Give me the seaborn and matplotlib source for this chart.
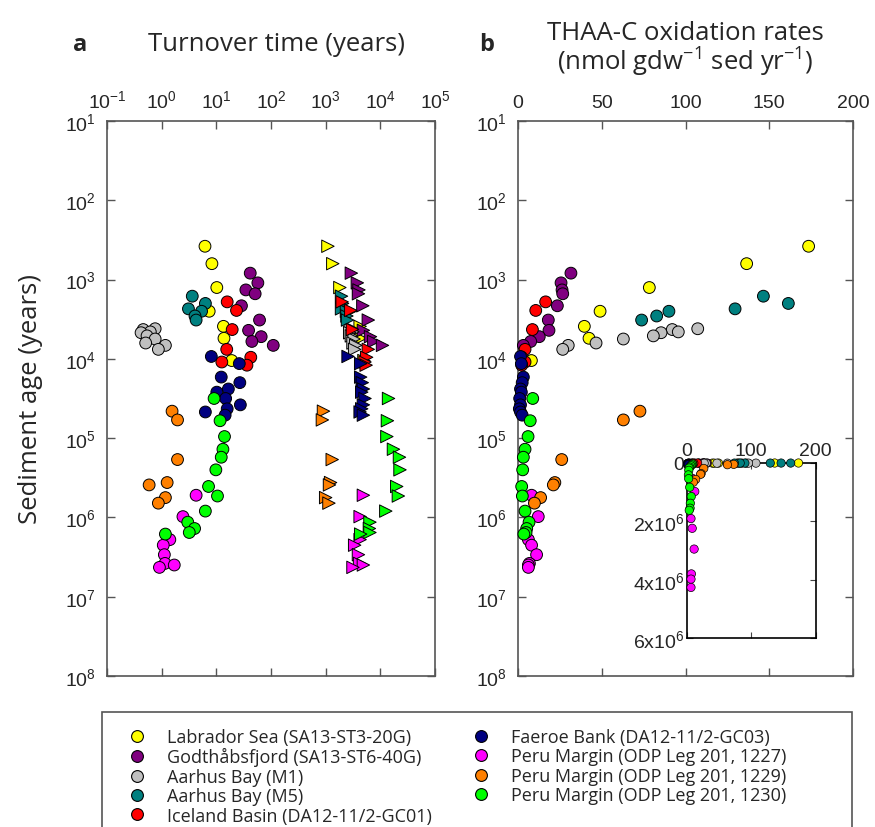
import numpy as np
import pandas as pd
import matplotlib
matplotlib.use("Agg")
import matplotlib.pyplot as plt
import seaborn as sns
from matplotlib.lines import Line2D
from matplotlib.patches import Rectangle
from matplotlib.ticker import FixedLocator, FixedFormatter, NullLocator, LogFormatterSciNotation

# ---------------- data ----------------
site_names = [
    "Labrador Sea (SA13-ST3-20G)",
    "Godthåbsfjord (SA13-ST6-40G)",
    "Aarhus Bay (M1)",
    "Aarhus Bay (M5)",
    "Iceland Basin (DA12-11/2-GC01)",
    "Faeroe Bank (DA12-11/2-GC03)",
    "Peru Margin (ODP Leg 201, 1227)",
    "Peru Margin (ODP Leg 201, 1229)",
    "Peru Margin (ODP Leg 201, 1230)",
]
site_colors = ["#FFFF00", "#800080", "#C0C0C0", "#008080", "#FF0000",
               "#000080", "#FF00FF", "#FF8000", "#00FF00"]

# sediment age (years)
labrador_age = [380, 630, 1260, 2510, 3890, 5500, 10500]
godthab_age = [830, 1100, 1350, 1510, 2140, 3240, 4370, 5250, 6030, 6760]
aarhus_m1_age = [4170, 4270, 4570, 4680, 5130, 5620, 6310, 6760, 7590]
aarhus_m5_age = [1620, 2000, 2340, 2510, 2880, 3240]
iceland_age = [1910, 2450, 4270, 7590, 9550, 10960, 12020]
faeroe_age = [9330, 11480, 16980, 19950, 23990, 26300, 31620, 38020, 42660, 46770, 51290]
peru1227_age = [525000, 977000, 1905000, 2239000, 2951000, 3802000, 3981000, 4266000]
peru1229_age = [45700, 58900, 186200, 363100, 389000, 562300, 660700]
peru1230_age = [31600, 60300, 95500, 138000, 174000, 251000, 407000, 537000,
                832000, 1148000, 1380000, 1549000, 1622000]

# turnover time (years), circles
labrador_turn_c = [6.2, 8.3, 10.2, 7.4, 13.5, 13.8, 19.1]
godthab_turn_c = [41.7, 57.5, 34.7, 51.3, 28.8, 61.7, 38.9, 66.1, 44.7, 110]
aarhus_m1_turn_c = [0.76, 0.46, 0.62, 0.42, 0.54, 0.76, 0.51, 1.17, 0.87]
aarhus_m5_turn_c = [3.63, 6.31, 3.09, 5.37, 4.07, 4.27]
iceland_turn_c = [15.8, 23.4, 19.5, 15.5, 42.7, 12.6, 36.3]
faeroe_turn_c = [8.1, 26.3, 12.3, 26.9, 16.6, 10.2, 14.8, 27.5, 15.8, 6.3, 14.5]
peru1227_turn_c = [4.27, 2.45, 1.41, 1.07, 1.12, 1.15, 1.70, 0.91]
peru1229_turn_c = [1.55, 1.95, 1.95, 1.26, 0.59, 1.17, 0.87]
peru1230_turn_c = [9.1, 11.7, 14.1, 13.2, 12.3, 9.8, 7.2, 10.5, 6.3, 3.0, 4.0, 3.2, 1.17]

# turnover time (years), triangles
labrador_turn_t = [1100, 1350, 1820, 2820, 4270, 4370, 5010]
godthab_turn_t = [2950, 3800, 4070, 3980, 4790, 6030, 4900, 6610, 7590, 10960]
aarhus_m1_turn_t = [3020, 2820, 3160, 2750, 2950, 3310, 3160, 3550, 3390]
aarhus_m5_turn_t = [1950, 2040, 1950, 2400, 2450, 2510]
iceland_turn_t = [2000, 2880, 3090, 6030, 5620, 5250, 5500]
faeroe_turn_t = [2570, 4370, 4370, 4680, 4900, 4570, 5250, 4900, 4570, 4270, 4900]
peru1227_turn_t = [4900, 4270, 4270, 3390, 3980, 4170, 4900, 3160]
peru1229_turn_t = [912, 871, 1318, 1230, 1175, 1000, 1148]
peru1230_turn_t = [14130, 13490, 13180, 17380, 22390, 22910, 19950, 21380,
                   12590, 6460, 6310, 6460, 4370]

# THAA-C oxidation rates (nmol gdw-1 sed yr-1)
labrador_rate = [173.5, 136.5, 78.4, 49.0, 39.6, 42.4, 8.0]
godthab_rate = [31.6, 25.7, 26.3, 26.7, 23.5, 18.1, 18.5, 12.7, 7.6, 3.2]
aarhus_m1_rate = [107.3, 92.1, 95.7, 85.4, 80.8, 62.9, 46.6, 30.0, 26.7]
aarhus_m5_rate = [146.5, 161.4, 129.6, 90.1, 82.8, 73.8]
iceland_rate = [16.5, 10.6, 8.6, 4.2, 2.2, 4.2, 2.2]
faeroe_rate = [1.5, 2.0, 3.2, 2.5, 1.5, 2.0, 1.0, 1.5, 0.8, 1.5, 2.5]
peru1227_rate = [8.1, 12.1, 6.2, 8.1, 11.1, 6.8, 6.2, 6.2]
peru1229_rate = [72.8, 62.9, 26.1, 22.0, 21.1, 13.5, 9.8]
peru1230_rate = [8.8, 7.3, 6.0, 4.2, 3.2, 2.8, 2.2, 2.6, 4.2, 6.6, 5.2, 4.8, 3.5]

ages = [labrador_age, godthab_age, aarhus_m1_age, aarhus_m5_age, iceland_age,
        faeroe_age, peru1227_age, peru1229_age, peru1230_age]
turn_c = [labrador_turn_c, godthab_turn_c, aarhus_m1_turn_c, aarhus_m5_turn_c,
          iceland_turn_c, faeroe_turn_c, peru1227_turn_c, peru1229_turn_c, peru1230_turn_c]
turn_t = [labrador_turn_t, godthab_turn_t, aarhus_m1_turn_t, aarhus_m5_turn_t,
          iceland_turn_t, faeroe_turn_t, peru1227_turn_t, peru1229_turn_t, peru1230_turn_t]
rates = [labrador_rate, godthab_rate, aarhus_m1_rate, aarhus_m5_rate, iceland_rate,
         faeroe_rate, peru1227_rate, peru1229_rate, peru1230_rate]

rows = []
for name, a, tc, tt, r in zip(site_names, ages, turn_c, turn_t, rates):
    for i in range(len(a)):
        rows.append(dict(site=name, age=a[i], turn_c=tc[i], turn_t=tt[i], rate=r[i]))
df = pd.DataFrame(rows)
palette = dict(zip(site_names, site_colors))

# ---------------- style ----------------
sns.set_style("white")
plt.rcParams["font.family"] = ["Open Sans", "DejaVu Sans"]
plt.rcParams["mathtext.fontset"] = "custom"
plt.rcParams["mathtext.rm"] = "Liberation Sans"
plt.rcParams["mathtext.default"] = "regular"

SPINE = "#555555"
TICKFONT = "Liberation Sans"

fig = plt.figure(figsize=(8.75, 8.28), dpi=100)
W, H = 875, 828

def px_axes(l, t, r, b):
    return fig.add_axes([l / W, 1 - b / H, (r - l) / W, (b - t) / H])

ax_a = px_axes(107, 122, 435, 677)
ax_b = px_axes(518, 122, 853, 677)

def style_main(ax):
    for s in ax.spines.values():
        s.set_color(SPINE)
        s.set_linewidth(1.2)
    ax.set_yscale("log")
    ax.set_ylim(1e8, 1e1)
    ax.yaxis.set_major_locator(FixedLocator([10.0 ** k for k in range(1, 9)]))
    ax.yaxis.set_major_formatter(LogFormatterSciNotation())
    ax.yaxis.set_minor_locator(NullLocator())
    ax.xaxis.tick_top()
    ax.tick_params(axis="both", which="major", direction="in", length=6, width=1.0,
                   color=SPINE, top=True, bottom=True, left=True, right=True,
                   labeltop=True, labelbottom=False, labelleft=True, labelright=False,
                   labelsize=14, labelfontfamily=TICKFONT)
    ax.tick_params(axis="y", pad=8)
    ax.tick_params(axis="x", pad=7)
    ax.set_xlabel("")
    ax.set_ylabel("")

# panel a
sns.scatterplot(data=df, x="turn_c", y="age", hue="site", hue_order=site_names,
                palette=palette, marker="o", s=72, edgecolor="black", linewidth=0.7,
                legend=False, ax=ax_a, zorder=3)
sns.scatterplot(data=df, x="turn_t", y="age", hue="site", hue_order=site_names,
                palette=palette, marker=">", s=80, edgecolor="black", linewidth=0.7,
                legend=False, ax=ax_a, zorder=3)
ax_a.set_xscale("log")
ax_a.set_xlim(1e-1, 1e5)
style_main(ax_a)
ax_a.xaxis.set_major_locator(FixedLocator([10.0 ** k for k in range(-1, 6)]))
ax_a.xaxis.set_major_formatter(LogFormatterSciNotation())
ax_a.xaxis.set_minor_locator(NullLocator())

# panel b
sns.scatterplot(data=df, x="rate", y="age", hue="site", hue_order=site_names,
                palette=palette, marker="o", s=72, edgecolor="black", linewidth=0.7,
                legend=False, ax=ax_b, zorder=3, clip_on=False)
ax_b.set_xlim(0, 200)
style_main(ax_b)
ax_b.xaxis.set_major_locator(FixedLocator([0, 50, 100, 150, 200]))

# inset
ax_in = px_axes(687, 464, 815.5, 639)
sns.scatterplot(data=df, x="rate", y="age", hue="site", hue_order=site_names,
                palette=palette, marker="o", s=36, edgecolor="black", linewidth=0.5,
                legend=False, ax=ax_in, zorder=3, clip_on=False)
ax_in.set_xlim(0, 200)
ax_in.set_ylim(6e6, 0)
for s in ax_in.spines.values():
    s.set_color("black")
    s.set_linewidth(1.2)
ax_in.xaxis.tick_top()
ax_in.xaxis.set_major_locator(FixedLocator([0, 100, 200]))
ax_in.xaxis.set_major_formatter(FixedFormatter(["0", "100", "200"]))
ax_in.yaxis.set_major_locator(FixedLocator([0, 2e6, 4e6, 6e6]))
ax_in.yaxis.set_major_formatter(FixedFormatter(["0", r"2x10$^{6}$", r"4x10$^{6}$", r"6x10$^{6}$"]))
ax_in.tick_params(axis="both", direction="in", length=4, width=0.8, color="#444444",
                  top=True, bottom=True, left=True, right=True,
                  labeltop=True, labelbottom=False, labelleft=True, labelright=False,
                  labelsize=14, labelfontfamily=TICKFONT)
ax_in.tick_params(axis="x", pad=3)
ax_in.tick_params(axis="y", pad=2)
ax_in.set_xlabel("")
ax_in.set_ylabel("")

# titles / labels
ax_a.text(0.518, 1.139, "Turnover time (years)", transform=ax_a.transAxes,
          ha="center", va="center", fontsize=18.5)
ax_b.text(0.5, 1.13, "THAA-C oxidation rates\n(nmol gdw$^{-1}$ sed yr$^{-1}$)",
          transform=ax_b.transAxes, ha="center", va="center", fontsize=18.5,
          linespacing=1.0)
ax_a.set_ylabel("Sediment age (years)", fontsize=18.5)
ax_a.yaxis.set_label_coords(-0.195, 0.5)
fig.text(80 / W, 1 - 45 / H, "a", fontsize=17, fontweight="bold", ha="center", va="center")
fig.text(487 / W, 1 - 45 / H, "b", fontsize=17, fontweight="bold", ha="center", va="center")

# legend
fig.patches.append(Rectangle((102 / W, -0.01), (852 - 102) / W, (828 - 713) / H + 0.01,
                             transform=fig.transFigure, fill=False,
                             edgecolor=SPINE, linewidth=1.2))
handles = [Line2D([], [], marker="o", linestyle="", markerfacecolor=c,
                  markeredgecolor="black", markeredgewidth=0.8, markersize=8.5)
           for c in site_colors]
leg = fig.legend(handles, site_names, ncol=2, loc="upper left",
                 bbox_to_anchor=(128 / W, 1 - 729 / H),
                 fontsize=13, frameon=False, borderpad=0.0, labelspacing=0.08,
                 handlelength=1.0, handletextpad=1.16, borderaxespad=0.0,
                 columnspacing=2.2)

fig.savefig("out.png", dpi=100)
